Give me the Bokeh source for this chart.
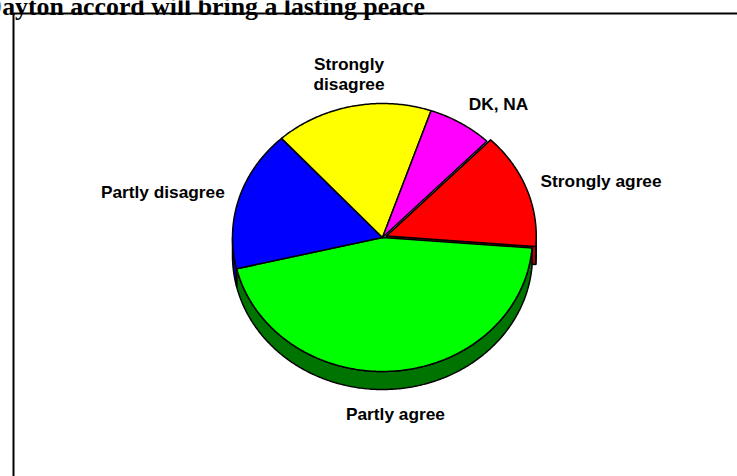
import numpy as np
from bokeh.plotting import figure
from bokeh.models import Range1d, ColumnDataSource
from bokeh.core.properties import value
from bokeh.embed import file_html
from bokeh.resources import INLINE

# ---------------- data ----------------
title_text = "Dayton accord will bring a lasting peace"
categories = ["Strongly agree", "Partly agree", "Partly disagree", "Strongly disagree", "DK, NA"]
shares = [14, 45, 17, 17, 7]
label_lines = [["Strongly agree"], ["Partly agree"], ["Partly disagree"], ["Strongly", "disagree"], ["DK, NA"]]

# ---------------- style / layout ----------------
top_colors = ["#FF0000", "#00FF00", "#0000FF", "#FFFF00", "#FF00FF"]
side_colors = ["#B00000", "#007400", "#000099", "#A0A000", "#A000A0"]
explode = [4, 0, 0, 0, 0]

W, H = 737, 476
CX, CY, RX, RY, DEPTH = 382, 237, 150, 134, 18
START = 45.9          # math angle (deg) where the first slice begins, drawn clockwise
GX, GY = 15, 24       # label gaps
LH = 20               # label line height

p = figure(width=W, height=H, x_range=Range1d(0, W), y_range=Range1d(H, 0),
           output_backend="svg", toolbar_location=None,
           x_axis_location=None, y_axis_location=None, min_border=0)
p.grid.visible = False
p.outline_line_color = None
p.background_fill_color = "white"
p.border_fill_color = "white"

total = float(sum(shares))
bounds = []
a = START
for v in shares:
    span = 360.0 * v / total
    bounds.append((a - span, a))
    a -= span


def arc(lo, hi, off, n=None):
    if n is None:
        n = max(4, int(abs(hi - lo) * 1.5))
    t = np.radians(np.linspace(lo, hi, n))
    xs = CX + off[0] + RX * np.cos(t)
    ys = CY + off[1] - RY * np.sin(t)
    return list(xs), list(ys)


offsets = []
for i, (lo, hi) in enumerate(bounds):
    m = np.radians((lo + hi) / 2)
    offsets.append((explode[i] * np.cos(m), -explode[i] * np.sin(m)))

# ---- side walls ----
face_xs, face_ys, face_c = [], [], []
side_xs, side_ys, side_c = [], [], []
for i, (lo, hi) in enumerate(bounds):
    off = offsets[i]
    cx, cy = CX + off[0], CY + off[1]
    if explode[i] > 0:
        for ang, visible in ((lo, np.cos(np.radians(lo)) > 0), (hi, np.cos(np.radians(hi)) < 0)):
            if visible:
                ax, ay = arc(ang, ang, off, 1)
                face_xs.append([cx, ax[0], ax[0], cx])
                face_ys.append([cy, ay[0], ay[0] + DEPTH, cy + DEPTH])
                face_c.append(side_colors[i])
    for k in range(-2, 2):
        s0, s1 = -180 + 360 * k, 360 * k
        l2, h2 = max(lo, s0), min(hi, s1)
        if h2 > l2:
            xs, ys = arc(l2, h2, off)
            side_xs.append(xs + xs[::-1])
            side_ys.append(ys + [y + DEPTH for y in ys[::-1]])
            side_c.append(side_colors[i])

p.patches(xs="xs", ys="ys", fill_color="c", line_color="black", line_width=1.5,
          source=ColumnDataSource(dict(xs=face_xs, ys=face_ys, c=face_c)))
p.patches(xs="xs", ys="ys", fill_color="c", line_color="black", line_width=1.5,
          source=ColumnDataSource(dict(xs=side_xs, ys=side_ys, c=side_c)))

# ---- top faces (exploded ones last) ----
order = sorted(range(len(shares)), key=lambda i: explode[i])
top_xs, top_ys, top_c = [], [], []
for i in order:
    lo, hi = bounds[i]
    off = offsets[i]
    xs, ys = arc(lo, hi, off)
    top_xs.append([CX + off[0]] + xs)
    top_ys.append([CY + off[1]] + ys)
    top_c.append(top_colors[i])
p.patches(xs="xs", ys="ys", fill_color="c", line_color="black", line_width=1.5,
          line_join="round",
          source=ColumnDataSource(dict(xs=top_xs, ys=top_ys, c=top_c)))

# ---- labels ----
for i, (lo, hi) in enumerate(bounds):
    m = np.radians((lo + hi) / 2)
    c, s = np.cos(m), np.sin(m)
    off = offsets[i]
    px = CX + off[0] + (RX + GX) * c
    py = CY + off[1] - (RY + GY) * s + (DEPTH if s < 0 else 0) + 1
    align = "center" if abs(c) < 0.3 else ("left" if c > 0 else "right")
    lines = label_lines[i]
    n = len(lines)
    ymid = py - s * (n - 1) * LH / 2
    for j, line in enumerate(lines):
        p.text(x=[px], y=[ymid + (j - (n - 1) / 2) * LH], text=[line],
               text_font=value("Liberation Sans"), text_font_style="bold",
               text_font_size="17.3px", text_color="black",
               text_align=align, text_baseline="middle")

# ---- title (partly cut off at the page edge, as in the original) ----
p.text(x=[-17], y=[6], text=[title_text], text_font=value("Liberation Serif"),
       text_font_style="bold", text_font_size="25.8px", text_color="black",
       text_align="left", text_baseline="alphabetic")

# ---- chart-area border ----
p.quad(left=[13], right=[W + 20], top=[13], bottom=[H + 20],
       fill_color=None, line_color="black", line_width=2)

open("out.html", "w").write(file_html(p, INLINE))
